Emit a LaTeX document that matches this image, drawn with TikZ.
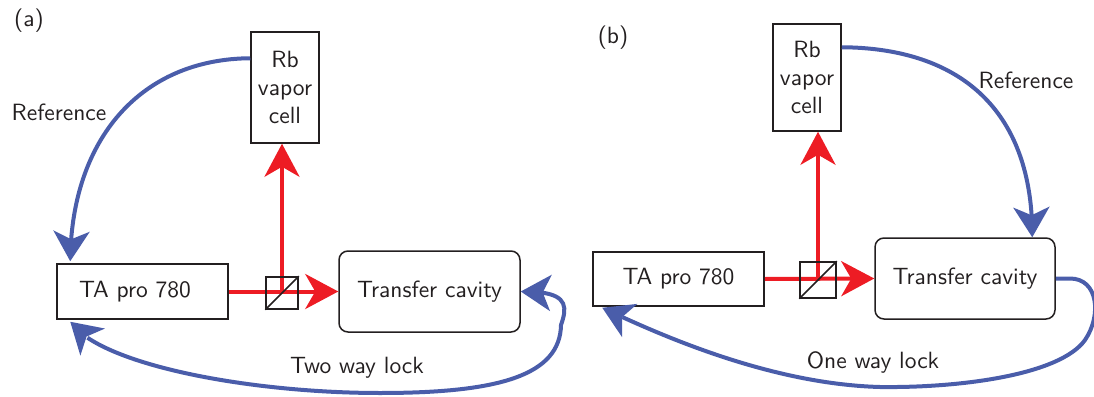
\documentclass[tikz,border=0pt]{standalone}
\usepackage{fontspec}
\setsansfont{lmsans10-regular.otf}
\usetikzlibrary{arrows.meta,bending,calc}
\definecolor{myblue}{RGB}{74,93,170}
\definecolor{myred}{RGB}{237,28,36}
\definecolor{ink}{RGB}{35,31,32}
\tikzset{
  txt/.style={font=\sffamily\fontsize{23.5}{28}\selectfont, text=ink},
  box/.style={txt, draw=ink, line width=1.5pt, inner sep=0pt, align=center},
  cbox/.style={box, rounded corners=9pt},
  bsbox/.style={draw=ink, line width=1.5pt, inner sep=0pt},
  redbeam/.style={draw=myred, line width=4pt, -{Stealth[length=33pt,width=35pt,inset=10pt]}},
  bluearr/.style={draw=myblue, line width=4pt, -{Stealth[length=30pt,width=36pt,inset=8pt]}},
  bluearrboth/.style={draw=myblue, line width=4pt, {Stealth[length=30pt,width=36pt,inset=8pt]}-{Stealth[length=30pt,width=36pt,inset=8pt]}},
}
\begin{document}
\begin{tikzpicture}[x=1pt,y=-1pt]
\useasboundingbox (0,0) rectangle (1094,396);
% ---------- panel (a)
\node[txt] (lbla) at (29,21) {(a)};
\node[box, minimum width=171, minimum height=55] (taa) at (142.5,291.5) {\hspace*{-15pt}TA pro 780};
\node[box, minimum width=68, minimum height=111] (rba) at (285,87.5) {Rb\\vapor\\cell};
\node[cbox, minimum width=181, minimum height=81] (cava) at (429.5,291.5) {Transfer cavity};
\node[bsbox, minimum size=32] (bsa) at (282,293) {};
\draw[redbeam] (taa.east) -- (cava.west);
\draw[redbeam] (bsa.center) -- (bsa.center |- rba.south);
\node[bsbox, minimum size=32] at (bsa.center) {};
\draw[ink, line width=1.5pt] (bsa.south west) -- (bsa.north east);
\draw[bluearr] ($(rba.north west)+(0,27)$) .. controls (140,59) and (71,140) .. ($(taa.north west)+(14,-2)$);
\node[txt] (refa) at (59,112) {Reference};
\draw[bluearrboth] (cava.east) .. controls (568,291) and (568,305) .. (561,325)
   .. controls (560,375) and (500,393) .. (380,393)
   .. controls (250,393) and (100,365) .. ($(taa.south west)+(14,2)$);
\node[txt] (twa) at (357,368) {Two way lock};
% ---------- panel (b)
\node[txt] (lblb) at (613,38) {(b)};
\node[box, minimum width=171, minimum height=54] (tab) at (678.5,279) {TA pro 780};
\node[box, minimum width=68, minimum height=107] (rbb) at (807,77.5) {Rb\\vapor\\cell};
\node[cbox, minimum width=180, minimum height=81] (cavb) at (965,278.5) {Transfer cavity};
\node[bsbox, minimum size=36] (bsb) at (818,280) {};
\draw[redbeam] (tab.east) -- (cavb.west);
\draw[redbeam] (bsb.center) -- (bsb.center |- rbb.south);
\node[bsbox, minimum size=36] at (bsb.center) {};
\draw[ink, line width=1.5pt] (bsb.south west) -- (bsb.north east);
\draw[bluearr] ($(rbb.north east)+(0,24)$) .. controls (960,48) and (1033,110) .. ($(cavb.north west)+(158,0)$);
\node[txt] (refb) at (1026,80) {Reference};
\draw[bluearr] (cavb.east) -- (1070,278.5) .. controls (1098,278.5) and (1102,315) .. (1085,340)
   .. controls (1060,375) and (960,388) .. (880,387)
   .. controls (770,384) and (660,335) .. ($(tab.south west)+(10,1)$);
\node[txt] (owl) at (873,362) {One way lock};
\end{tikzpicture}
\end{document}
